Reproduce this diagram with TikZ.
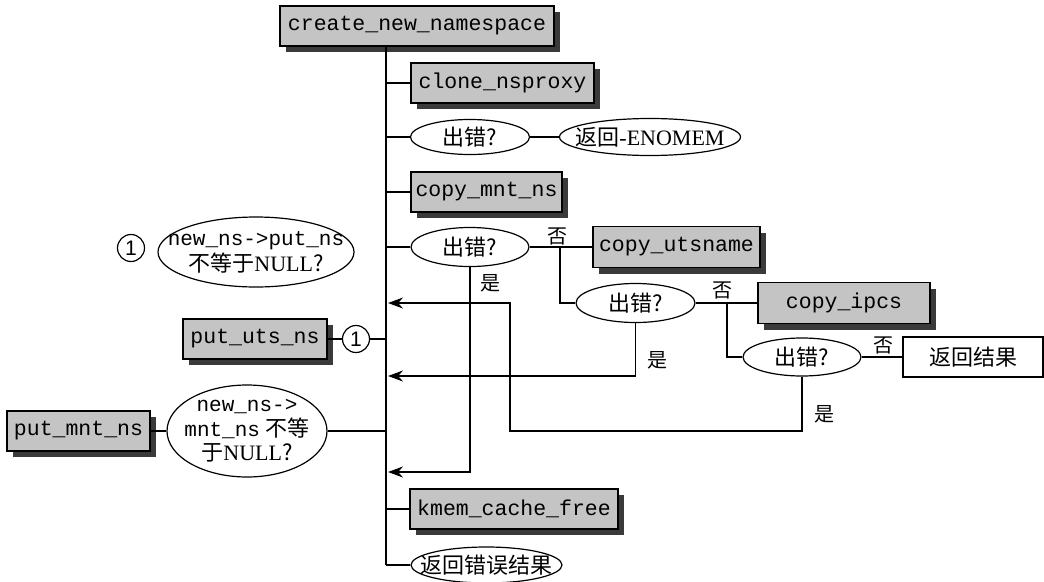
\documentclass[tikz,border=0pt]{standalone}
\usepackage{fontspec}
\setmainfont{Liberation Serif}
\setmonofont{Liberation Mono}
\newfontfamily\cjk{Noto Sans CJK SC}
\newfontfamily\numfont{Liberation Sans}
\usetikzlibrary{shapes.geometric,shadows,arrows.meta}
\definecolor{boxgray}{HTML}{C4C4C4}
\definecolor{shadowgray}{HTML}{3A3A3A}
\begin{document}
\begin{tikzpicture}[x=1pt,y=-1pt,
  line width=1.6pt,
  fn/.style={draw,fill=boxgray,line width=1.2pt,font=\ttfamily\fontsize{21.5}{23}\selectfont,
    inner sep=0pt,drop shadow={shadow xshift=6pt,shadow yshift=-6pt,fill=shadowgray,opacity=1}},
  ell/.style={draw,ellipse,fill=white,line width=1.2pt,inner sep=0pt},
  etext/.style={inner sep=0pt,font=\fontsize{22}{24}\selectfont,align=center},
  plainbox/.style={draw,fill=white,line width=1.2pt,inner sep=0pt,font=\fontsize{22}{24}\selectfont},
  lab/.style={font=\cjk\fontsize{20}{22}\selectfont,inner sep=0pt},
  circ/.style={draw,circle,fill=white,line width=1.2pt,inner sep=0pt,minimum size=27pt,font=\numfont\fontsize{21}{22}\selectfont},
  arr/.style={-{Stealth[length=15pt,width=11pt]}}
]
\useasboundingbox (0,0) rectangle (1044,581);

% spine and nodes
\node[fn,minimum width=274pt,minimum height=40pt] (cnn) at (417,26) {create\_new\_namespace};
\coordinate (top) at (386,46);
\coordinate (bot) at (386,565);
\draw (top) -- (bot);

\node[fn,minimum width=183pt,minimum height=40pt] (clone) at (502.5,83) {clone\_nsproxy};
\node[ell,minimum width=119pt,minimum height=35pt] (e1) at (470,137) {};
\node[etext] (e1t) at (e1.center) {{\cjk 出错?}};
\node[ell,minimum width=181pt,minimum height=37pt] (enomem) at (650,137) {};
\node[etext] (enomemt) at (enomem.center) {{\cjk 返回}-ENOMEM};
\node[fn,minimum width=151pt,minimum height=40pt] (copymnt) at (486.5,192) {copy\_mnt\_ns};
\node[ell,minimum width=118pt,minimum height=39pt] (e2) at (470,247) {};
\node[etext] (e2t) at (e2.center) {{\cjk 出错?}};
\node[fn,minimum width=167pt,minimum height=41pt] (uts) at (676.5,247) {copy\_utsname};
\node[ell,minimum width=119pt,minimum height=39pt] (e3) at (635.5,303) {};
\node[etext] (e3t) at (e3.center) {{\cjk 出错?}};
\node[fn,minimum width=172pt,minimum height=41pt] (ipcs) at (844,303) {copy\_ipcs};
\node[ell,minimum width=118pt,minimum height=38pt] (e4) at (802,357) {};
\node[etext] (e4t) at (e4.center) {{\cjk 出错?}};
\node[plainbox,minimum width=140pt,minimum height=40pt] (res) at (973,357) {{\cjk 返回结果}};

\node[circ] (n1) at (131,248) {1};
\node[ell,minimum width=196pt,minimum height=70pt] (eput) at (256,252) {};
\node[etext,font=\fontsize{22}{26}\selectfont] (eputt) at (eput.center) {{\ttfamily\fontsize{21}{26}\selectfont new\_ns->put\_ns}\\{\cjk 不等于}NULL{\cjk ?}};
\node[fn,minimum width=144pt,minimum height=40pt] (pututs) at (255,339) {put\_uts\_ns};
\node[circ] (c1) at (356,339) {1};
\node[fn,minimum width=143pt,minimum height=40pt] (putmnt) at (78.5,431) {put\_mnt\_ns};
\node[ell,minimum width=160pt,minimum height=92pt] (emnt) at (247,431) {};
\node[etext,font=\fontsize{22}{24.5}\selectfont] (emntt) at (emnt.center) {{\ttfamily\fontsize{21}{24.5}\selectfont new\_ns->}\\{\ttfamily\fontsize{21}{24.5}\selectfont mnt\_ns} {\cjk 不等}\\{\cjk 于}NULL{\cjk ?}};
\node[fn,minimum width=208pt,minimum height=40pt] (kmem) at (514,509) {kmem\_cache\_free};
\node[ell,minimum width=151pt,minimum height=36pt] (eret) at (486.5,565) {};
\node[etext] (erett) at (eret.center) {{\cjk 返回错误结果}};

% branches from spine
\draw (clone.west) -- (clone.west -| top);
\draw (e1.west) -- (e1.west -| top);
\draw (e1.east) -- (enomem.west);
\draw (copymnt.west) -- (copymnt.west -| top);
\draw (e2.west) -- (e2.west -| top);
\draw (e2.east) -- (uts.west);
\coordinate (b2) at (560,247);
\draw (b2) |- (e3.west);
\draw (e3.east) -- (ipcs.west);
\coordinate (b3) at (727,303);
\draw (b3) |- (e4.west);
\draw (e4.east) -- (res.west);
\draw (kmem.west) -- (kmem.west -| top);
\draw (eret.west) -- (eret.west -| top);
\draw (pututs.east) -- (c1.west);
\draw (c1.east) -- (c1.east -| top);
\draw (putmnt.east) -- (emnt.west);
\draw (emnt.east) -- (emnt.east -| top);

% return arrows
\coordinate (a1) at (510,431);
\coordinate (t1) at (388,303);
\draw[arr] (e4.south) |- (a1) |- (t1);
\coordinate (t2) at (388,376);
\draw[arr] (e3.south) |- (t2);
\coordinate (t3) at (388,472);
\draw[arr] (e2.south) |- (t3);

% labels
\node[lab] (no1) at (557,236) {否};
\node[lab] (no2) at (722,290) {否};
\node[lab] (no3) at (883,345) {否};
\node[lab] (yes1) at (490,283) {是};
\node[lab] (yes2) at (657,360) {是};
\node[lab] (yes3) at (824,414) {是};
\end{tikzpicture}
\end{document}
